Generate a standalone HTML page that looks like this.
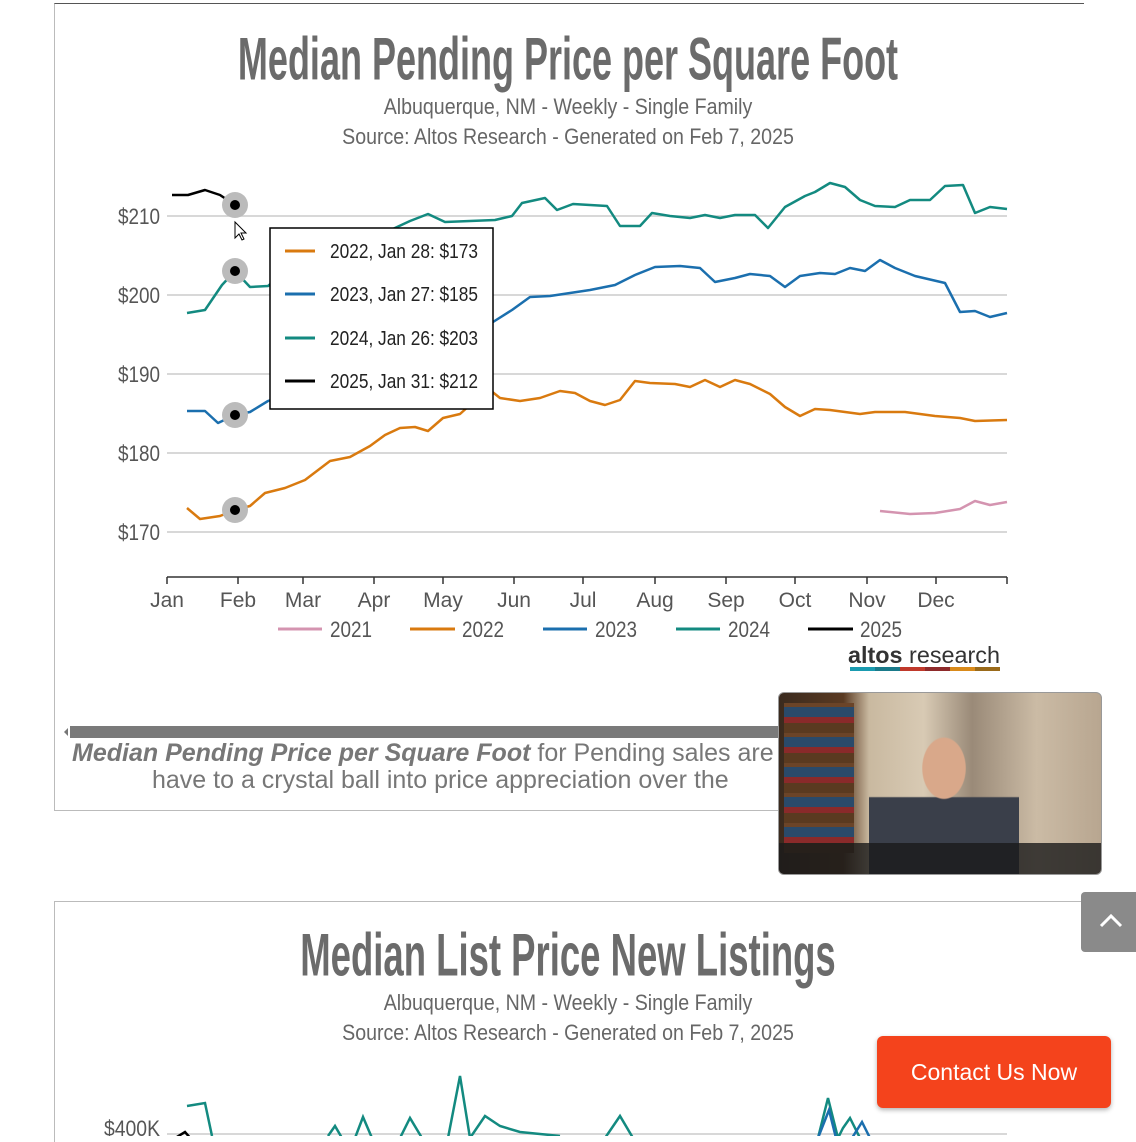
<!DOCTYPE html>
<html><head><meta charset="utf-8"><style>
body{margin:0;width:1136px;height:1136px;overflow:hidden;background:#fff;position:relative;font-family:"Liberation Sans",sans-serif}
.abs{position:absolute}
.title{font-weight:bold;color:#6b6b6b;text-align:center;width:1136px;left:0;white-space:nowrap}
.sub{color:#666;font-size:22px;text-align:center;width:1136px;left:0;transform:scaleX(0.89);white-space:nowrap}
</style></head><body>
<div class="abs" style="left:54px;top:3px;width:1029px;height:806px;border-top:1.5px solid #555;border-left:1px solid #bbb;border-bottom:1px solid #bbb"></div>
<div class="abs title" style="top:30px;font-size:50px;transform:scaleX(0.72) scaleY(1.2);">Median Pending Price per Square Foot</div>
<div class="abs sub" style="top:94px">Albuquerque, NM - Weekly - Single Family</div>
<div class="abs sub" style="top:124px">Source: Altos Research - Generated on Feb 7, 2025</div>
<svg class="abs" style="left:0;top:0" width="1136" height="700">
<g stroke="#ccc" stroke-width="1.5">
<line x1="167" y1="216" x2="1007" y2="216"/><line x1="167" y1="295" x2="1007" y2="295"/><line x1="167" y1="374" x2="1007" y2="374"/><line x1="167" y1="453" x2="1007" y2="453"/><line x1="167" y1="532" x2="1007" y2="532"/></g>
<g font-family="Liberation Sans, sans-serif" font-size="22" fill="#555" text-anchor="end">
<text x="160" y="224" textLength="42" lengthAdjust="spacingAndGlyphs">$210</text><text x="160" y="303" textLength="42" lengthAdjust="spacingAndGlyphs">$200</text><text x="160" y="382" textLength="42" lengthAdjust="spacingAndGlyphs">$190</text><text x="160" y="461" textLength="42" lengthAdjust="spacingAndGlyphs">$180</text><text x="160" y="540" textLength="42" lengthAdjust="spacingAndGlyphs">$170</text></g>
<line x1="167" y1="577" x2="1007" y2="577" stroke="#333" stroke-width="1.5"/>
<g stroke="#333" stroke-width="1.5">
<line x1="167" y1="577" x2="167" y2="584"/><line x1="238" y1="577" x2="238" y2="584"/><line x1="303" y1="577" x2="303" y2="584"/><line x1="374" y1="577" x2="374" y2="584"/><line x1="443" y1="577" x2="443" y2="584"/><line x1="514" y1="577" x2="514" y2="584"/><line x1="583" y1="577" x2="583" y2="584"/><line x1="655" y1="577" x2="655" y2="584"/><line x1="726" y1="577" x2="726" y2="584"/><line x1="795" y1="577" x2="795" y2="584"/><line x1="867" y1="577" x2="867" y2="584"/><line x1="936" y1="577" x2="936" y2="584"/><line x1="1007" y1="577" x2="1007" y2="584"/></g>
<g font-family="Liberation Sans, sans-serif" font-size="21" fill="#555" text-anchor="middle">
<text x="167" y="607">Jan</text><text x="238" y="607">Feb</text><text x="303" y="607">Mar</text><text x="374" y="607">Apr</text><text x="443" y="607">May</text><text x="514" y="607">Jun</text><text x="583" y="607">Jul</text><text x="655" y="607">Aug</text><text x="726" y="607">Sep</text><text x="795" y="607">Oct</text><text x="867" y="607">Nov</text><text x="936" y="607">Dec</text></g>
<g fill="none" stroke-width="2.5" stroke-linejoin="round">
<polyline stroke="#d494b0" points="880,511 910,514 935,513 960,509 975,501 990,505 1007,502"/>
<polyline stroke="#d97a0f" points="187,508 200,519 220,516 235,510 250,506 265,493 285,488 305,480 330,461 350,457 370,446 385,435 400,428 415,427 428,431 443,418 460,414 470,405 480,396 490,390 500,398 520,401 540,398 560,391 575,393 590,401 605,405 620,400 635,381 650,383 675,384 690,387 705,380 720,387 735,380 750,384 770,394 785,407 800,416 815,409 830,410 845,412 860,414 875,412 905,412 920,414 935,416 960,418 975,421 1007,420"/>
<polyline stroke="#1b6fae" points="187,411 205,411 218,423 235,415 250,412 268,401 300,390 400,360 460,335 493,322 512,310 530,297 550,296 570,293 590,290 615,285 635,275 655,267 680,266 700,268 715,282 735,278 750,274 770,276 785,287 800,276 820,273 835,274 850,268 865,271 880,260 895,268 915,276 945,283 960,312 975,311 990,317 1007,313"/>
<polyline stroke="#138a80" points="187,313 205,310 222,285 235,271 250,287 268,286 300,260 380,235 410,221 428,214 445,222 470,221 495,220 512,216 522,203 545,198 557,210 573,204 590,205 607,206 620,226 640,226 652,213 670,216 690,218 705,215 720,218 735,215 755,215 768,228 785,207 805,196 815,192 830,183 845,187 860,200 875,206 895,207 910,200 930,200 945,186 963,185 975,213 990,207 1007,209"/>
<polyline stroke="#000" points="172,195 188,195 205,190 220,195 235,205"/>
</g>
<g><circle cx="235" cy="205" r="13" fill="#bbb"/><circle cx="235" cy="205" r="5" fill="#000"/>
<circle cx="235" cy="271" r="13" fill="#bbb"/><circle cx="235" cy="271" r="5" fill="#000"/>
<circle cx="235" cy="415" r="13" fill="#bbb"/><circle cx="235" cy="415" r="5" fill="#000"/>
<circle cx="235" cy="510" r="13" fill="#bbb"/><circle cx="235" cy="510" r="5" fill="#000"/></g>
<path d="M235,222 L235,238 L239,234 L242,240 L244,239 L241,233 L246,233 Z" fill="#fff" stroke="#000" stroke-width="1"/>
<rect x="270" y="228" width="223" height="181" fill="#fff" stroke="#000" stroke-width="1.5"/>
<g stroke-width="3"><line x1="285" y1="251" x2="315" y2="251" stroke="#d97a0f"/><line x1="285" y1="294" x2="315" y2="294" stroke="#1b6fae"/><line x1="285" y1="338" x2="315" y2="338" stroke="#138a80"/><line x1="285" y1="381" x2="315" y2="381" stroke="#000"/></g>
<g font-family="Liberation Sans, sans-serif" font-size="20" fill="#222">
<text x="330" y="258" textLength="148" lengthAdjust="spacingAndGlyphs">2022, Jan 28: $173</text><text x="330" y="301" textLength="148" lengthAdjust="spacingAndGlyphs">2023, Jan 27: $185</text><text x="330" y="345" textLength="148" lengthAdjust="spacingAndGlyphs">2024, Jan 26: $203</text><text x="330" y="388" textLength="148" lengthAdjust="spacingAndGlyphs">2025, Jan 31: $212</text></g>
<g stroke-width="3"><line x1="278" y1="629" x2="322" y2="629" stroke="#d494b0"/><line x1="410" y1="629" x2="455" y2="629" stroke="#d97a0f"/><line x1="543" y1="629" x2="587" y2="629" stroke="#1b6fae"/><line x1="676" y1="629" x2="720" y2="629" stroke="#138a80"/><line x1="808" y1="629" x2="853" y2="629" stroke="#000"/></g>
<g font-family="Liberation Sans, sans-serif" font-size="22" fill="#555">
<text x="330" y="637" textLength="42" lengthAdjust="spacingAndGlyphs">2021</text><text x="462" y="637" textLength="42" lengthAdjust="spacingAndGlyphs">2022</text><text x="595" y="637" textLength="42" lengthAdjust="spacingAndGlyphs">2023</text><text x="728" y="637" textLength="42" lengthAdjust="spacingAndGlyphs">2024</text><text x="860" y="637" textLength="42" lengthAdjust="spacingAndGlyphs">2025</text></g>
<text x="848" y="663" font-size="23" fill="#333" font-family="Liberation Sans, sans-serif" textLength="152" lengthAdjust="spacingAndGlyphs"><tspan font-weight="bold">altos</tspan> research</text>
<rect x="850" y="667" width="25" height="4" fill="#1a9bb0"/><rect x="875" y="667" width="25" height="4" fill="#1a7a8a"/><rect x="900" y="667" width="25" height="4" fill="#c0392b"/><rect x="925" y="667" width="25" height="4" fill="#8e2a2a"/><rect x="950" y="667" width="25" height="4" fill="#d98a1a"/><rect x="975" y="667" width="25" height="4" fill="#9a6a1a"/>
</svg>
<div class="abs" style="left:70px;top:726px;width:710px;height:12px;background:#7a7a7a"></div>
<div class="abs" style="left:60px;top:728px;width:0;height:0;border:4px solid transparent;border-right-color:#777"></div>
<div class="abs" style="left:72px;top:739px;font-size:25px;color:#777;white-space:nowrap;width:705px;overflow:hidden"><b><i>Median Pending Price per Square Foot</i></b> for Pending sales are</div>
<div class="abs" style="left:152px;top:766px;font-size:25px;color:#777;white-space:nowrap;width:625px;overflow:hidden">have to a crystal ball into price appreciation over the</div>
<div class="abs" style="left:778px;top:692px;width:322px;height:181px;border-radius:6px;overflow:hidden;border:1px solid #999;background:linear-gradient(90deg,#3a2a1e 0%,#5a3a22 20%,#c9b9a0 28%,#d8cab4 45%,#9a8a78 60%,#cbbba5 80%,#b8a690 100%)">
<div class="abs" style="left:5px;top:10px;width:70px;height:150px;background:repeating-linear-gradient(180deg,#6b4428 0 4px,#2a4a6a 4px 14px,#8a2a2a 14px 20px,#5a3a20 20px 30px)"></div>
<div class="abs" style="left:90px;top:40px;width:150px;height:141px;background:radial-gradient(ellipse at 50% 25%,#d9a88a 0 20%,transparent 21%),linear-gradient(180deg,transparent 45%,#3a3f4a 46%)"></div>
<div class="abs" style="left:0;top:150px;width:322px;height:31px;background:#1a1a1a;opacity:.8"></div>
</div>
<div class="abs" style="left:54px;top:901px;width:1082px;height:240px;border-top:1px solid #bbb;border-left:1px solid #bbb"></div>
<div class="abs title" style="top:926px;font-size:50px;transform:scaleX(0.73) scaleY(1.2);">Median List Price New Listings</div>
<div class="abs sub" style="top:990px">Albuquerque, NM - Weekly - Single Family</div>
<div class="abs sub" style="top:1020px">Source: Altos Research - Generated on Feb 7, 2025</div>
<svg class="abs" style="left:0;top:1060px" width="1136" height="76">
<line x1="167" y1="74" x2="1007" y2="74" stroke="#ccc" stroke-width="1.5"/>
<text x="160" y="76" text-anchor="end" font-family="Liberation Sans, sans-serif" font-size="22" fill="#555" textLength="56" lengthAdjust="spacingAndGlyphs">$400K</text>
<g fill="none" stroke="#138a80" stroke-width="2.5">
<polyline points="187,46 205,43 212,76"/>
<polyline points="328,76 335,66 342,78"/><polyline points="355,78 363,57 372,78"/><polyline points="400,78 410,58 422,78"/>
<polyline points="448,78 460,16 470,78 485,56 500,66 520,72 560,76"/><polyline points="605,78 620,56 633,78"/>
<polyline points="818,78 828,38 838,78 843,68 850,58 860,78"/></g>
<g fill="none" stroke="#1b6fae" stroke-width="2.5"><polyline points="818,78 829,50 836,78"/><polyline points="852,78 862,62 870,78"/></g>
<polyline points="172,80 185,72 192,80" fill="none" stroke="#000" stroke-width="2.5"/>
</svg>
<div class="abs" style="left:1081px;top:892px;width:60px;height:60px;background:#8a8a8a;border-radius:4px 0 0 4px"></div>
<svg class="abs" style="left:1098px;top:910px" width="26" height="20"><polyline points="3,16 13,6 23,16" fill="none" stroke="#fff" stroke-width="3"/></svg>
<div class="abs" style="left:877px;top:1036px;width:234px;height:72px;background:#f4431c;border-radius:6px;box-shadow:0 2px 5px rgba(0,0,0,.3);color:#fff;font-size:23px;line-height:72px;text-align:center">Contact Us Now</div>
</body></html>
